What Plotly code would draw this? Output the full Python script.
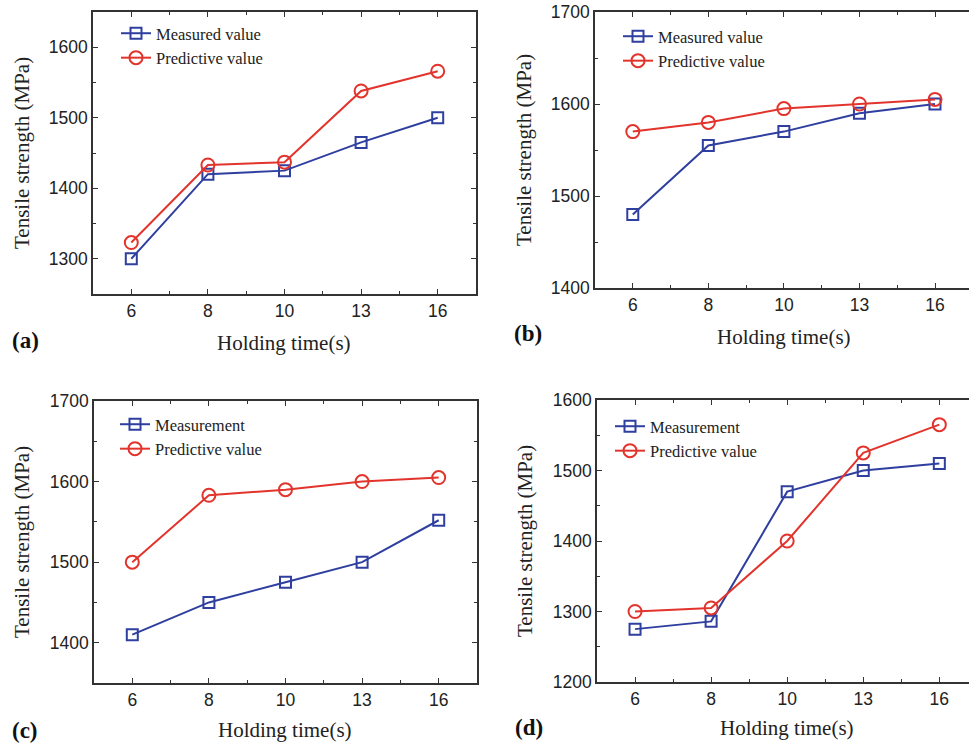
import plotly.graph_objects as go

W, H = 969, 747

categories = ["6", "8", "10", "13", "16"]

a_measured = [1300, 1420, 1425, 1465, 1500]
a_predictive = [1323, 1433, 1437, 1538, 1566]

b_measured = [1480, 1555, 1570, 1590, 1600]
b_predictive = [1570, 1580, 1595, 1600, 1605]

c_measured = [1410, 1450, 1475, 1500, 1552]
c_predictive = [1500, 1583, 1590, 1600, 1605]

d_measured = [1275, 1286, 1470, 1500, 1510]
d_predictive = [1300, 1305, 1400, 1525, 1565]

BLUE = "#2f3f9f"
RED = "#e2342c"
AX = "#333333"
SERIF = "Liberation Serif, Times New Roman, serif"
SANS = "Liberation Sans, Arial, sans-serif"

xpos = list(range(len(categories)))


def px_x(p):
    return p / W


def px_y(p):
    return 1 - p / H


panels = [
    dict(id="", m=a_measured, p=a_predictive, mlab="Measured value",
         xd=(93, 476), yd=(12, 294), yr=(1250, 1650), xmax=4.5,
         leg=(116, 16), ymirror="ticks", label="(a)", lab=(10, 340),
         xt=(284, 343), yt=(22, 153)),
    dict(id="2", m=b_measured, p=b_predictive, mlab="Measured value",
         xd=(595, 969), yd=(12, 288), yr=(1400, 1700), xmax=4.45,
         leg=(618, 19), ymirror=False, label="(b)", lab=(512, 333),
         xt=(784, 337), yt=(524, 150)),
    dict(id="3", m=c_measured, p=c_predictive, mlab="Measurement",
         xd=(94, 477), yd=(401, 683), yr=(1350, 1700), xmax=4.5,
         leg=(115, 407), ymirror="ticks", label="(c)", lab=(10, 730),
         xt=(285, 730), yt=(22, 542)),
    dict(id="4", m=d_measured, p=d_predictive, mlab="Measurement",
         xd=(597, 969), yd=(400, 682), yr=(1200, 1600), xmax=4.39,
         leg=(610, 409), ymirror=False, label="(d)", lab=(513, 727),
         xt=(787, 728), yt=(525, 541)),
]

fig = go.Figure()
annotations = []
layout_extra = {}

for pn in panels:
    i = pn["id"]
    xa = "x" + i
    ya = "y" + i
    leg = "legend" + i
    fig.add_trace(go.Scatter(
        x=xpos, y=pn["m"], mode="lines+markers", name=pn["mlab"],
        xaxis=xa, yaxis=ya, legend=leg,
        line=dict(color=BLUE, width=2),
        marker=dict(symbol="square-open", size=11, color=BLUE,
                    line=dict(width=2, color=BLUE)),
    ))
    fig.add_trace(go.Scatter(
        x=xpos, y=pn["p"], mode="lines+markers", name="Predictive value",
        xaxis=xa, yaxis=ya, legend=leg,
        line=dict(color=RED, width=2),
        marker=dict(symbol="circle-open", size=13, color=RED,
                    line=dict(width=2, color=RED)),
    ))
    layout_extra["xaxis" + i] = dict(
        domain=[px_x(pn["xd"][0]), px_x(pn["xd"][1])],
        anchor=ya, range=[-0.5, pn["xmax"]],
        tickmode="array", tickvals=xpos, ticktext=categories,
        ticks="inside", ticklen=5, tickwidth=1.2, tickcolor=AX,
        minor=dict(ticks="inside", ticklen=3, tickwidth=1.2, tickcolor=AX,
                   tick0=0.5, dtick=1),
        showline=True, linecolor=AX, linewidth=1.5, mirror="ticks",
        showgrid=False, zeroline=False,
        tickfont=dict(family=SANS, size=17.5, color="#222"),
    )
    layout_extra["yaxis" + i] = dict(
        domain=[px_y(pn["yd"][1]), px_y(pn["yd"][0])],
        anchor=xa, range=list(pn["yr"]), dtick=100, tick0=0,
        ticks="inside", ticklen=5, tickwidth=1.2, tickcolor=AX,
        minor=dict(ticks="inside", ticklen=3, tickwidth=1.2, tickcolor=AX,
                   dtick=50, tick0=0),
        showline=True, linecolor=AX, linewidth=1.5, mirror=pn["ymirror"],
        showgrid=False, zeroline=False,
        tickfont=dict(family=SANS, size=17.5, color="#222"),
    )
    layout_extra[leg] = dict(
        x=px_x(pn["leg"][0]), y=px_y(pn["leg"][1]),
        xanchor="left", yanchor="top", xref="paper", yref="paper",
        bgcolor="rgba(0,0,0,0)", borderwidth=0,
        font=dict(family=SERIF, size=16.5, color="#222"),
        itemwidth=30, tracegroupgap=0,
    )
    annotations.append(dict(
        text="<b>" + pn["label"] + "</b>", x=px_x(pn["lab"][0]), y=px_y(pn["lab"][1]),
        xref="paper", yref="paper", xanchor="left", yanchor="middle",
        showarrow=False, font=dict(family=SERIF, size=23, color="#111"),
    ))
    annotations.append(dict(
        text="Holding time(s)", x=px_x(pn["xt"][0]), y=px_y(pn["xt"][1]),
        xref="paper", yref="paper", xanchor="center", yanchor="middle",
        showarrow=False, font=dict(family=SERIF, size=21, color="#222"),
    ))
    annotations.append(dict(
        text="Tensile strength (MPa)", x=px_x(pn["yt"][0]), y=px_y(pn["yt"][1]),
        xref="paper", yref="paper", xanchor="center", yanchor="middle",
        textangle=-90, showarrow=False,
        font=dict(family=SERIF, size=21, color="#222"),
    ))

fig.update_layout(
    width=W, height=H,
    margin=dict(l=0, r=0, t=0, b=0, autoexpand=False),
    paper_bgcolor="white", plot_bgcolor="white",
    annotations=annotations,
    **layout_extra,
)

fig.write_html(
    "out.html",
    config={"displayModeBar": False},
    post_script="document.body.style.margin='0';document.body.style.padding='0';",
)
